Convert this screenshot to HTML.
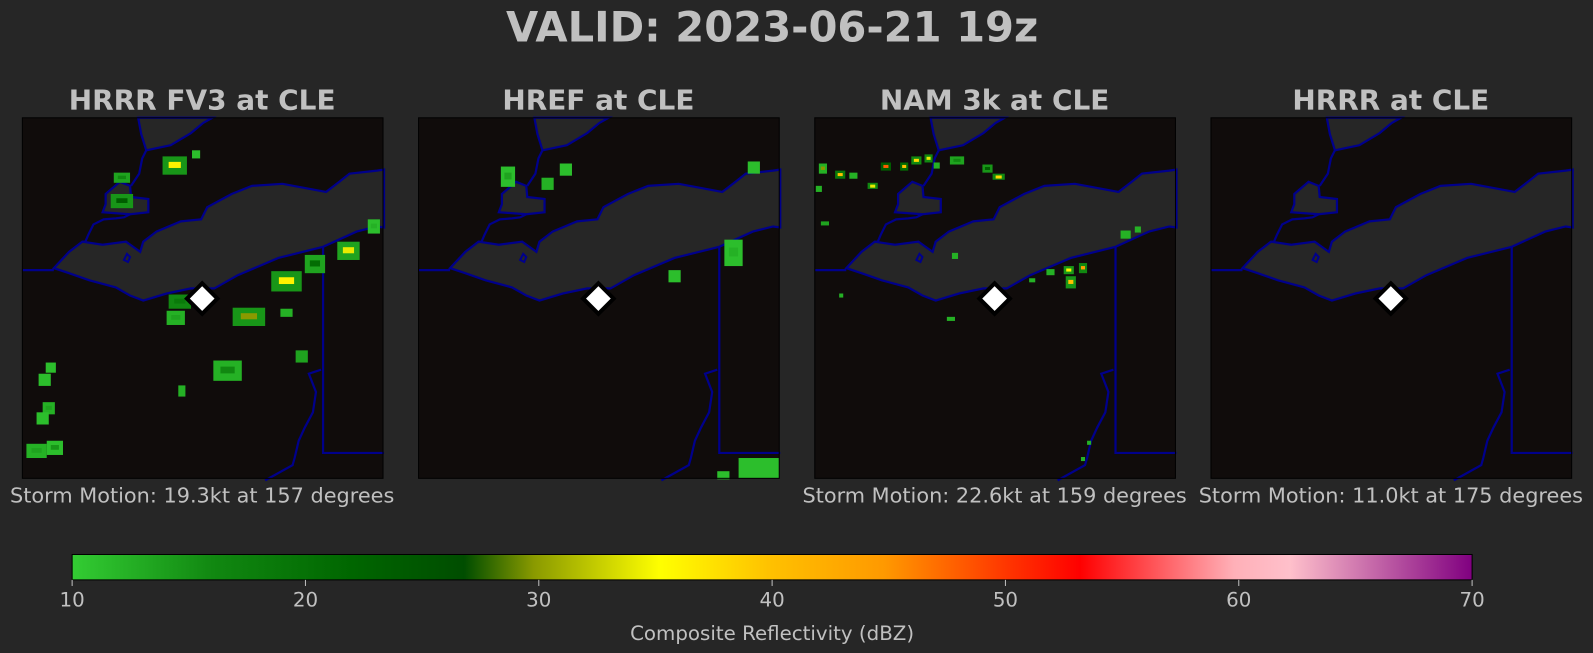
<!DOCTYPE html>
<html><head><meta charset="utf-8"><style>
body{margin:0;background:#262626;}
svg{display:block;font-family:"DejaVu Sans","Liberation Sans",sans-serif;}
</style></head><body>
<svg id="fig" width="1593" height="653" viewBox="0 0 1568 643" preserveAspectRatio="none">
<rect x="0" y="0" width="1568" height="643" fill="#262626"/>
<defs>
<linearGradient id="cmap" x1="0" x2="1" y1="0" y2="0">
<stop offset="0" stop-color="#33cc33"/>
<stop offset="0.1" stop-color="#118811"/>
<stop offset="0.2" stop-color="#006600"/>
<stop offset="0.28" stop-color="#004d00"/>
<stop offset="0.33" stop-color="#8a9a00"/>
<stop offset="0.42" stop-color="#ffff00"/>
<stop offset="0.5" stop-color="#ffc000"/>
<stop offset="0.58" stop-color="#ff9900"/>
<stop offset="0.67" stop-color="#ff3300"/>
<stop offset="0.72" stop-color="#ff0000"/>
<stop offset="0.83" stop-color="#ffb0b8"/>
<stop offset="0.87" stop-color="#ffc0cb"/>
<stop offset="1" stop-color="#800080"/>
</linearGradient>
<g id="basemap">
<rect x="0" y="0" width="355" height="355" fill="#100c0b"/>
<path d="M114,0 L117,16 L122,32 L146,27 L166,15 L178,5 L187,0 Z" fill="#262626" stroke="#00008b" stroke-width="2.2"/>
<path d="M82,75 L96,63 L106,67 L107,78 L124,80 L124,93 L106,95 L79,93 L82,85 Z" fill="#262626" stroke="#00008b" stroke-width="2.2"/>
<path d="M31,148 L46,132 L59,122 L79,125 L102,122 L116,132 L119,122 L132,112 L156,102 L176,100 L182,88 L206,75 L226,67 L256,65 L299,73 L312,63 L322,55 L349,52 L356,51 L356,108 L349,107 L329,112 L296,127 L252,138 L212,155 L189,168 L166,168 L142,173 L119,180 L106,175 L92,167 L66,160 L46,153 Z" fill="#262626" stroke="#00008b" stroke-width="2.2"/>
<path d="M106,95 L100,98 L92,99 L80,100 L70,105 L65,115 L62,122 L59,122" fill="none" stroke="#00008b" stroke-width="2.2"/>
<path d="M107,67 L115,55 L118,40 L122,32" fill="none" stroke="#00008b" stroke-width="2.2"/>
<path d="M0,150 L31,150" fill="none" stroke="#00008b" stroke-width="2.2"/>
<path d="M296,127 L296,330 L356,330" fill="none" stroke="#00008b" stroke-width="2.2"/>
<path d="M294,248 L282,252 L289,270 L286,290 L278,305 L272,318 L268,335 L266,342 L239,357" fill="none" stroke="#00008b" stroke-width="2.2"/>
<path d="M100,140 L103,134 L106,137 L104,142 Z" fill="none" stroke="#00008b" stroke-width="2"/>
</g>
</defs>
<text x="760" y="41" text-anchor="middle" font-size="41" font-weight="bold" fill="#c0c0c0">VALID: 2023-06-21 19z</text>
<g id="panels"></g>
<g>
<rect x="71" y="546" width="1378" height="25" fill="url(#cmap)" stroke="#000" stroke-width="1"/>
<g id="cbticks"></g>
<text x="760" y="630" text-anchor="middle" font-size="19.5" fill="#c0c0c0">Composite Reflectivity (dBZ)</text>
</g>
</svg>
<script>
const panelTitles = ["HRRR FV3 at CLE","HREF at CLE","NAM 3k at CLE","HRRR at CLE"];
const motionText = ["Storm Motion: 19.3kt at 157 degrees","","Storm Motion: 22.6kt at 159 degrees","Storm Motion: 11.0kt at 175 degrees"];
const cbTicks = [10,20,30,40,50,60,70];
// blobs per panel: [x, y, w, h, outer dBZ, core dBZ] in panel-relative px
const blobsFV3 = [[150,47,24,18,18,36],[171,36,8,8,12,12],[98,59,16,10,16,20],[98,82,22,14,18,26],[260,161,30,20,18,36],[288,144,20,18,16,24],[321,131,22,18,16,34],[346,107,12,14,12,14],[155,181,22,14,20,22],[151,197,18,14,14,16],[223,196,32,18,18,30],[260,192,12,8,14,14],[275,235,12,12,16,16],[202,249,28,20,14,20],[157,269,7,11,14,14],[28,246,10,10,12,12],[22,258,12,12,12,12],[26,286,12,12,14,16],[20,296,12,12,12,12],[14,328,20,14,14,16],[32,325,16,14,12,18]];
const blobsHREF = [[88,58,14,20,12,16],[127,65,12,12,14,14],[145,51,12,12,12,12],[330,49,12,12,12,12],[310,133,18,26,12,14],[252,156,12,12,12,12],[335,345,40,20,12,12],[300,352,12,8,12,12]];
const blobsNAM = [[8,50,8,10,14,30],[25,56,10,8,22,40],[38,57,8,6,14,14],[57,67,10,6,20,34],[70,48,10,8,26,48],[88,48,8,8,24,40],[100,42,10,8,20,38],[112,40,8,8,20,34],[120,47,6,6,14,14],[140,42,14,8,16,20],[170,50,10,8,18,26],[181,58,12,6,20,38],[4,70,6,6,14,14],[10,104,8,4,16,16],[138,136,6,6,14,14],[250,150,10,8,18,36],[252,162,10,12,18,40],[264,148,8,10,20,44],[232,152,8,6,14,14],[214,160,6,4,14,14],[306,115,10,8,14,14],[318,110,6,6,14,14],[26,175,4,4,14,14],[134,198,8,4,14,14],[270,320,4,4,14,14],[264,336,4,4,14,14]];
const blobsHRRR = [];
const allBlobs = [blobsFV3,blobsHREF,blobsNAM,blobsHRRR];
const panelX = [22,412,802,1192], panelY = 116, panelW = 355;
const stops=[[10,[51,204,51]],[20,[17,136,17]],[25,[0,102,0]],[28,[0,77,0]],[30,[138,154,0]],[35,[255,255,0]],[40,[255,192,0]],[45,[255,153,0]],[50,[255,51,0]],[53,[255,0,0]],[62,[255,192,203]],[70,[128,0,128]]];
function cmap(v){for(let i=0;i<stops.length-1;i++){const a=stops[i],b=stops[i+1];if(v<=b[0]){const t=Math.max(0,(v-a[0])/(b[0]-a[0]));const c=a[1].map((x,k)=>Math.round(x+(b[1][k]-x)*t));return `rgb(${c})`;}}return 'rgb(128,0,128)';}
const NS='http://www.w3.org/2000/svg';
const pg=document.getElementById('panels');
function mk(t,attrs,parent){const e=document.createElementNS(NS,t);for(const k in attrs)e.setAttribute(k,attrs[k]);parent.appendChild(e);return e;}
panelTitles.forEach((title,i)=>{
  const g=mk('g',{transform:`translate(${panelX[i]},${panelY})`},pg);
  
  
  const u=mk('use',{href:'#basemap'},g);
  
  
  allBlobs[i].forEach(b=>{
    const r=mk('rect',{x:b[0]-b[2]/2,y:b[1]-b[3]/2,width:b[2],height:b[3],fill:cmap(b[4])},g);
    
    
    if(b[5]>b[4]){const c=mk('rect',{x:b[0]-b[2]/4,y:b[1]-b[3]/5,width:b[2]/2,height:Math.max(3,b[3]/3),fill:cmap(b[5])},g);
      
      }
  });
  const d=mk('path',{d:'M177,163 L192,178 L177,193 L162,178 Z',fill:'#fff',stroke:'#000','stroke-width':4},g);
  
  
  const f=mk('rect',{x:0,y:0,width:panelW,height:panelW,fill:'none',stroke:'#000','stroke-width':1},g);
  
  
  const t=mk('text',{x:177,y:-8,'text-anchor':'middle','font-size':27.5,'font-weight':'bold',fill:'#c0c0c0'},g);
  t.textContent=title;
  
  
  if(motionText[i]){const m=mk('text',{x:177,y:379,'text-anchor':'middle','font-size':20.5,fill:'#c0c0c0'},g);
    m.textContent=motionText[i];
    
    }
});
const tg=document.getElementById('cbticks');
cbTicks.forEach(v=>{
  const x=71+(v-10)/60*1378;
  const l=mk('line',{x1:x,x2:x,y1:571,y2:577,stroke:'#c0c0c0','stroke-width':1},tg);
  
  
  const t=mk('text',{x:x,y:597,'text-anchor':'middle','font-size':19.5,fill:'#c0c0c0'},tg);
  t.textContent=v;
  
  
});
</script>
</body></html>
